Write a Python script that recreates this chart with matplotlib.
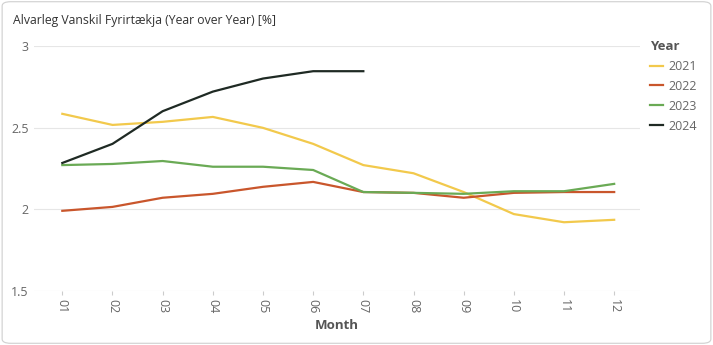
import matplotlib.pyplot as plt
from matplotlib.patches import FancyBboxPatch

plt.rcParams['font.family'] = ['Open Sans', 'DejaVu Sans']

months = [1, 2, 3, 4, 5, 6, 7, 8, 9, 10, 11, 12]
month_labels = ['01', '02', '03', '04', '05', '06', '07', '08', '09', '10', '11', '12']
years = ['2021', '2022', '2023', '2024']

v2021 = [2.584, 2.516, 2.535, 2.565, 2.498, 2.40, 2.27, 2.22, 2.105, 1.97, 1.92, 1.935]
v2022 = [1.99, 2.014, 2.07, 2.094, 2.137, 2.167, 2.105, 2.10, 2.07, 2.10, 2.105, 2.105]
v2023 = [2.27, 2.277, 2.295, 2.26, 2.26, 2.24, 2.105, 2.10, 2.094, 2.11, 2.11, 2.155]
v2024 = [2.283, 2.40, 2.60, 2.72, 2.80, 2.845, 2.845]

colors = ['#F2C94C', '#C9562C', '#6AAA55', '#1F2A24']
series = [v2021, v2022, v2023, v2024]

fig = plt.figure(figsize=(7.13, 3.45), dpi=100)
ax = fig.add_axes([0.048, 0.157, 0.85, 0.71])

for name, vals, c in zip(years, series, colors):
    ax.plot(months[:len(vals)], vals, color=c, lw=1.6, label=name)

ax.set_xlim(0.44, 12.52)
ax.set_ylim(1.5, 3)
ax.set_yticks([1.5, 2, 2.5, 3])
ax.set_yticklabels(['1.5', '2', '2.5', '3'])
ax.set_xticks(months)
ax.set_xticklabels(month_labels, rotation=-90)
ax.grid(axis='y', color='#e6e6e6', lw=0.8)
ax.set_axisbelow(True)
for s in ax.spines.values():
    s.set_visible(False)
ax.tick_params(axis='y', length=0, labelsize=9, labelcolor='#666666', pad=4)
ax.tick_params(axis='x', length=3, color='#cccccc', labelsize=9, labelcolor='#666666', pad=3)
ax.set_xlabel('Month', fontsize=9.5, fontweight='bold', color='#555555', labelpad=4)

leg = ax.legend(loc='upper left', bbox_to_anchor=(0.995, 1.075), frameon=False,
                title='Year', fontsize=9, handlelength=1.1, handletextpad=0.4,
                labelspacing=0.55, borderaxespad=0.6)
leg.get_title().set_fontweight('bold')
leg.get_title().set_fontsize(9.5)
leg.get_title().set_color('#555555')
leg._legend_box.align = 'left'
for t in leg.get_texts():
    t.set_color('#666666')

fig.text(0.018, 0.94, 'Alvarleg Vanskil Fyrirtækja (Year over Year) [%]',
         fontsize=8.8, color='#333333', va='center')

frame = FancyBboxPatch((0.003, 0.005), 0.994, 0.99, boxstyle='round,pad=0,rounding_size=0.012',
                       transform=fig.transFigure, fill=False, ec='#cfcfcf', lw=0.8)
fig.patches.append(frame)

fig.savefig('out.png', dpi=100)
